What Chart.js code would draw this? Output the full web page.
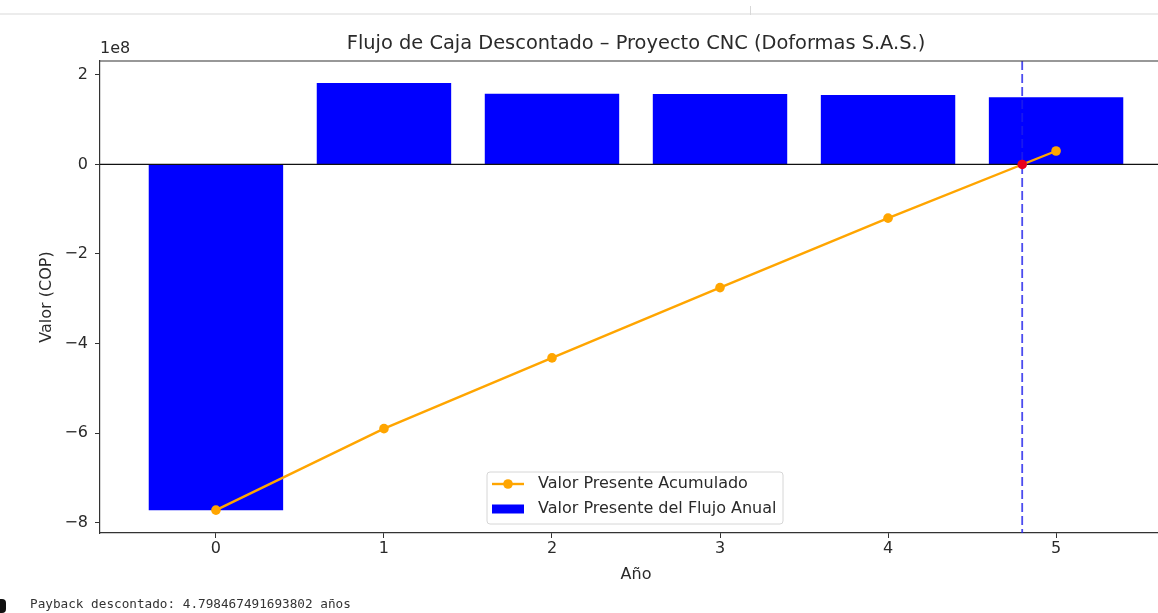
<!DOCTYPE html>
<html>
<head>
<meta charset="utf-8">
<title>Flujo de Caja Descontado</title>
<script src="https://cdn.jsdelivr.net/npm/chart.js@4.4.1/dist/chart.umd.min.js"></script>
<style>
  html, body { margin: 0; padding: 0; background: #fff; overflow: hidden; width: 1158px; height: 613px; }
  #topline { position: absolute; left: 0; top: 13px; width: 1158px; height: 2px; background: #ececec; }
  #topmark { position: absolute; left: 750px; top: 6px; width: 1px; height: 9px; background: #d8d8d8; }
  #wrap { position: absolute; left: 0; top: 0; width: 1180px; height: 613px; }
  #prompt { position: absolute; left: 0; top: 599px; width: 6px; height: 14px; background: #111; border-radius: 0 4px 4px 0; }
  #out { position: absolute; left: 30px; top: 596px; font: 12.7px "DejaVu Sans Mono", monospace; color: #333; white-space: pre; }
</style>
</head>
<body>
<div id="topline"></div>
<div id="topmark"></div>
<div id="wrap"><canvas id="c" width="1180" height="613"></canvas></div>
<div id="prompt"></div>
<div id="out"></div>
<script>
// Años del proyecto
const years = [0, 1, 2, 3, 4, 5];
// Valor presente del flujo de cada año (COP)
const flujoPV = [-7.72e8, 1.82e8, 1.58e8, 1.57e8, 1.55e8, 1.50e8];
// Valor presente acumulado (COP)
const acumuladoPV = [-7.72e8, -5.90e8, -4.32e8, -2.75e8, -1.20e8, 0.30e8];
// Payback descontado en años
const paybackAnios = 4.798467491693802;
// Marcas del eje Y (en unidades de 1e8)
const yTickValues = [-8, -6, -4, -2, 0, 2];
const escalaY = 1e8;

const FONT = '"DejaVu Sans", "Liberation Sans", sans-serif';
const TXT = '#2a2a2a';
const AXIS = '#333';
const FS = 16;

document.getElementById('out').textContent =
  'Payback descontado: ' + paybackAnios + ' años';

const labelBarras = 'Valor Presente del Flujo Anual';
const labelLinea = 'Valor Presente Acumulado';

// Marco, línea cero, línea de payback, leyenda y factor de escala
const decor = {
  id: 'decor',
  afterDatasetDraw(chart, args) {
    if (args.index !== 0) return;
    const { ctx, chartArea: a, scales: { x, y } } = chart;
    ctx.save();
    // línea horizontal en cero
    const y0 = y.getPixelForValue(0);
    ctx.strokeStyle = '#111';
    ctx.lineWidth = 1.2;
    ctx.beginPath();
    ctx.moveTo(a.left, y0);
    ctx.lineTo(a.right, y0);
    ctx.stroke();
    // línea vertical del payback
    const xp = x.getPixelForValue(paybackAnios);
    ctx.strokeStyle = 'rgba(30,30,235,0.8)';
    ctx.lineWidth = 1.8;
    ctx.setLineDash([9, 4]);
    ctx.beginPath();
    ctx.moveTo(xp, a.top);
    ctx.lineTo(xp, a.bottom);
    ctx.stroke();
    ctx.restore();
  },
  afterDraw(chart) {
    const { ctx, chartArea: a } = chart;
    ctx.save();
    // borde superior
    ctx.strokeStyle = AXIS;
    ctx.lineWidth = 1.2;
    ctx.beginPath();
    ctx.moveTo(a.left, a.top);
    ctx.lineTo(a.right, a.top);
    ctx.stroke();
    // factor de escala del eje Y
    ctx.fillStyle = TXT;
    ctx.font = FS + 'px ' + FONT;
    ctx.textAlign = 'left';
    ctx.textBaseline = 'middle';
    ctx.fillText('1e8', a.left, 49);

    // leyenda
    const bx = 487, by = 472, bw = 296, bh = 52;
    ctx.beginPath();
    ctx.roundRect(bx, by, bw, bh, 3);
    ctx.fillStyle = 'rgba(255,255,255,0.8)';
    ctx.fill();
    ctx.strokeStyle = '#d6d6d6';
    ctx.lineWidth = 1;
    ctx.stroke();

    const ds = chart.data.datasets;
    const lineDs = ds[1], barDs = ds[0];
    const r1 = 484, r2 = 509;
    ctx.strokeStyle = lineDs.borderColor;
    ctx.lineWidth = 2.4;
    ctx.beginPath();
    ctx.moveTo(492, r1);
    ctx.lineTo(524, r1);
    ctx.stroke();
    ctx.fillStyle = lineDs.backgroundColor;
    ctx.beginPath();
    ctx.arc(508, r1, 4.8, 0, Math.PI * 2);
    ctx.fill();
    ctx.fillStyle = barDs.backgroundColor;
    ctx.fillRect(492, r2 - 4.5, 32, 9);

    ctx.fillStyle = TXT;
    ctx.font = FS + 'px ' + FONT;
    ctx.textBaseline = 'middle';
    ctx.fillText(lineDs.label, 538, r1);
    ctx.fillText(barDs.label, 538, r2);
    ctx.restore();
  }
};

const fmtY = v => {
  const n = Math.round(v / escalaY);
  return n < 0 ? '\u2212' + Math.abs(n) : String(n);
};

new Chart(document.getElementById('c'), {
  type: 'bar',
  data: {
    datasets: [
      {
        type: 'bar',
        label: labelBarras,
        data: years.map((yr, i) => ({ x: yr, y: flujoPV[i] })),
        backgroundColor: '#0000ff',
        borderWidth: 0,
        categoryPercentage: 1.0,
        barPercentage: 0.8,
        order: 3
      },
      {
        type: 'line',
        label: labelLinea,
        data: years.map((yr, i) => ({ x: yr, y: acumuladoPV[i] })),
        borderColor: '#ffa500',
        backgroundColor: '#ffa500',
        borderWidth: 2.4,
        pointRadius: 4.8,
        pointBorderWidth: 0,
        tension: 0,
        order: 2
      },
      {
        type: 'line',
        label: 'Payback',
        data: [{ x: paybackAnios, y: 0 }],
        showLine: false,
        borderColor: '#e8001c',
        backgroundColor: '#e8001c',
        pointRadius: 4.8,
        pointBorderWidth: 0,
        order: 1
      }
    ]
  },
  options: {
    responsive: false,
    animation: false,
    events: [],
    layout: { padding: { left: 0, right: 8, top: 0, bottom: 0 } },
    plugins: {
      legend: { display: false },
      tooltip: { enabled: false },
      title: {
        display: true,
        fullSize: false,
        text: 'Flujo de Caja Descontado \u2013 Proyecto CNC (Doformas S.A.S.)',
        color: TXT,
        font: { family: FONT, size: 19.4, weight: 'normal', lineHeight: 1.2 },
        padding: { top: 32.4, bottom: 5.3 }
      }
    },
    scales: {
      x: {
        type: 'linear',
        offset: false,
        min: -0.69,
        max: 5.69,
        afterFit: s => { s.height = 80; },
        border: { display: true, color: AXIS, width: 1.2 },
        grid: { offset: false, drawOnChartArea: false, drawTicks: true, tickLength: 5, color: AXIS },
        ticks: {
          stepSize: 1,
          includeBounds: false,
          autoSkip: false,
          maxRotation: 0,
          padding: 1,
          color: TXT,
          font: { family: FONT, size: FS },
          callback: v => String(v)
        },
        title: {
          display: true,
          text: 'Año',
          color: TXT,
          font: { family: FONT, size: FS },
          padding: { top: 0, bottom: 28.4 }
        }
      },
      y: {
        type: 'linear',
        min: -8.23e8,
        max: 2.31e8,
        afterFit: s => { s.width = 100; },
        afterBuildTicks: s => { s.ticks = yTickValues.map(v => ({ value: v * escalaY })); },
        border: { display: true, color: AXIS, width: 1.2 },
        grid: { drawOnChartArea: false, drawTicks: true, tickLength: 5, color: AXIS },
        ticks: {
          padding: 7,
          color: TXT,
          font: { family: FONT, size: FS },
          callback: v => fmtY(v)
        },
        title: {
          display: true,
          text: 'Valor (COP)',
          color: TXT,
          font: { family: FONT, size: FS },
          padding: { top: 37.4, bottom: 0 }
        }
      }
    }
  },
  plugins: [decor]
});
</script>
</body>
</html>
